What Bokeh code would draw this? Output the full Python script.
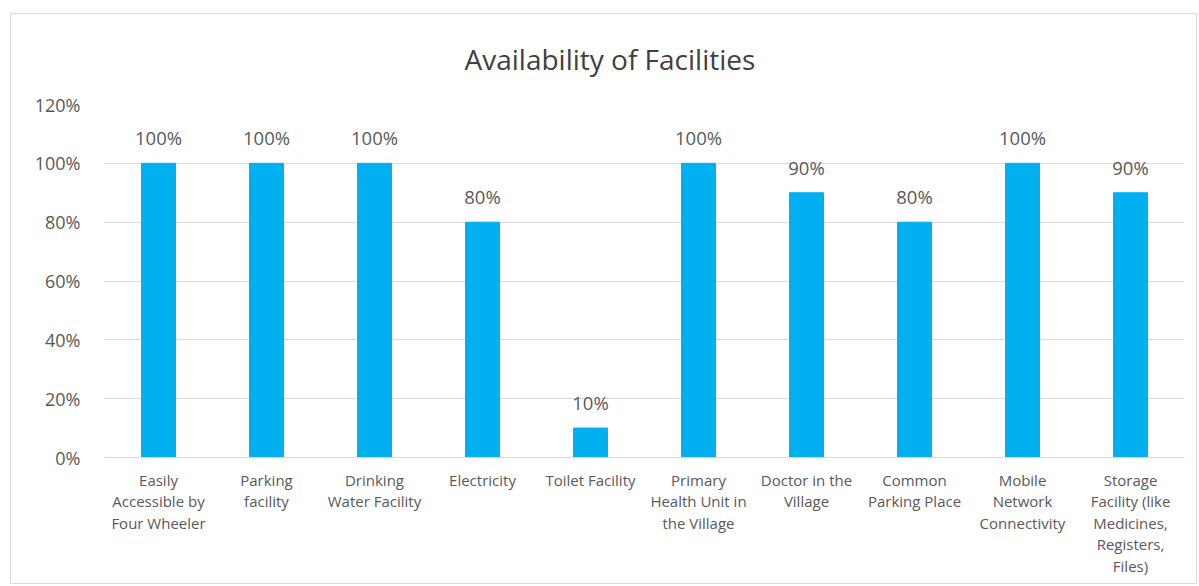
from bokeh.plotting import figure
from bokeh.models import ColumnDataSource, Range1d, FixedTicker, NumeralTickFormatter, LabelSet
from bokeh.core.properties import value
from bokeh.embed import file_html
from bokeh.resources import INLINE

title_text = "Availability of Facilities"
categories = [
    "Easily\nAccessible by\nFour Wheeler",
    "Parking\nfacility",
    "Drinking\nWater Facility",
    "Electricity",
    "Toilet Facility",
    "Primary\nHealth Unit in\nthe Village",
    "Doctor in the\nVillage",
    "Common\nParking Place",
    "Mobile\nNetwork\nConnectivity",
    "Storage\nFacility (like\nMedicines,\nRegisters,\nFiles)",
]
values = [1.00, 1.00, 1.00, 0.80, 0.10, 1.00, 0.90, 0.80, 1.00, 0.90]
y_ticks = [0, 0.2, 0.4, 0.6, 0.8, 1.0, 1.2]

xs = [i + 0.5 for i in range(len(categories))]
labels = [f"{round(v * 100)}%" for v in values]
src = ColumnDataSource(dict(x=xs, top=values, label=labels))

FONT = "Open Sans"
TXT = "#595959"

p = figure(width=1187, height=571, output_backend="svg", toolbar_location=None,
           x_range=Range1d(0, len(categories)), y_range=Range1d(0, 1.2),
           title=title_text,
           min_border_left=93, min_border_right=14, min_border_top=87, min_border_bottom=128)
p.margin = (13, 0, 0, 10)
p.styles = {"border": "1px solid #d9d9d9"}

p.vbar(x="x", top="top", width=0.315, source=src, color="#00B0F0")

p.add_layout(LabelSet(x="x", y="top", text="label", source=src, text_align="center",
                      text_baseline="bottom", y_offset=13, text_font=value(FONT),
                      text_font_size="18.5px", text_color=TXT))

p.title.align = "left"
p.title.offset = 360
p.title.vertical_align = "top"
p.title.text_font = FONT
p.title.text_font_size = "28px"
p.title.text_font_style = "normal"
p.title.text_color = "#404040"
p.title.standoff = 50

p.xaxis.ticker = FixedTicker(ticks=xs)
p.xaxis.major_label_overrides = {x: c for x, c in zip(xs, categories)}
p.xaxis.major_tick_line_color = None
p.xaxis.minor_tick_line_color = None
p.xaxis.axis_line_color = "#d9d9d9"
p.xaxis.major_label_text_font = FONT
p.xaxis.major_label_text_font_size = "15px"
p.xaxis.major_label_text_line_height = 1.08
p.xaxis.major_label_text_color = TXT
p.xaxis.major_label_standoff = 6

p.yaxis.ticker = FixedTicker(ticks=y_ticks)
p.yaxis.formatter = NumeralTickFormatter(format="0%")
p.yaxis.major_tick_line_color = None
p.yaxis.minor_tick_line_color = None
p.yaxis.axis_line_color = None
p.yaxis.major_label_text_font = FONT
p.yaxis.major_label_text_font_size = "18px"
p.yaxis.major_label_text_color = TXT
p.yaxis.major_label_standoff = 18

p.xgrid.grid_line_color = None
p.ygrid.grid_line_color = "#d9d9d9"
p.ygrid.ticker = FixedTicker(ticks=y_ticks)
p.outline_line_color = None
p.background_fill_color = "white"
p.border_fill_color = "white"

open("out.html", "w").write(file_html(p, INLINE))
